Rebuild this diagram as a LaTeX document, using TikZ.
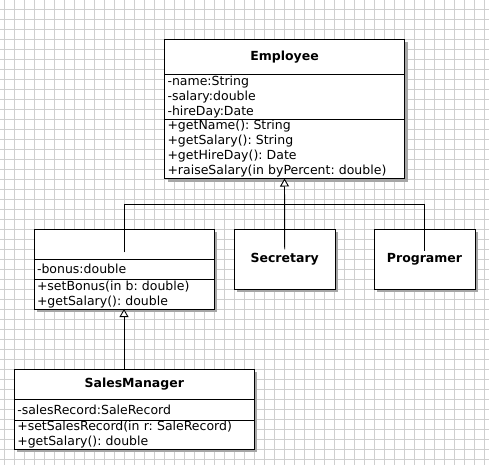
\documentclass[tikz,border=0pt]{standalone}
\usepackage{fontspec}
\setmainfont{DejaVu Sans}
\usetikzlibrary{arrows.meta,calc,shadows}

\begin{document}
\frenchspacing
\begin{tikzpicture}[
    x=1pt, y=-1pt,
    gridline/.style={draw=black!19, line width=0.6pt},
    part/.style={draw, fill=white, line width=0.9pt, outer sep=0pt,
      inner xsep=3pt, inner ysep=0pt, align=left, anchor=north,
      drop shadow={shadow xshift=3pt, shadow yshift=-3pt, fill=black!35, opacity=1}},
    titlepart/.style={part, align=center, font=\fontsize{12.5}{15}\selectfont\bfseries},
    link/.style={line width=0.9pt},
    inherit/.style={link, -{Triangle[open, fill=white, length=8pt, width=9pt]}},
    font=\fontsize{12.5}{15}\selectfont
  ]

  % background and grid
  \fill[white] (0,0) rectangle (489,465);
  \useasboundingbox (0,0) rectangle (489,465);
  \foreach \gx in {4,14,...,484} \draw[gridline] (\gx,0) -- (\gx,465);
  \foreach \gy in {9.5,19.5,...,459.5} \draw[gridline] (0,\gy) -- (489,\gy);

  %% ---- Employee ----
  \node[titlepart, text width=234pt, minimum height=34.7] (empT) at (284.5,39.3) {Employee};
  \node[part, text width=234pt, minimum height=45.3] (empA) at (empT.south)
    {-name:String\\-salary:double\\-hireDay:Date};
  \node[part, text width=234pt, minimum height=59.2] (empM) at (empA.south)
    {+getName(): String\\+getSalary(): String\\+getHireDay(): Date\\+raiseSalary(in byPercent: double)};

  %% ---- Manager (no name) ----
  \node[titlepart, text width=174pt, minimum height=30] (mgrT) at (124,229.3) {};
  \node[part, text width=174pt, minimum height=20] (mgrA) at (mgrT.south) {-bonus:double};
  \node[part, text width=174pt, minimum height=29.7] (mgrM) at (mgrA.south)
    {+setBonus(in b: double)\\+getSalary(): double};

  %% ---- Secretary, Programer ----
  \node[titlepart, text width=94.7pt, minimum height=59.7] (sec) at (284.7,229.3) {Secretary};
  \node[titlepart, text width=95pt, minimum height=59.7] (prg) at (424.5,229.3) {Programer};

  %% ---- SalesManager ----
  \node[titlepart, text width=234pt, minimum height=29.7] (salT) at (134.3,369.3) {SalesManager};
  \node[part, text width=234pt, minimum height=21.7] (salA) at (salT.south) {-salesRecord:SaleRecord};
  \node[part, text width=234pt, minimum height=28.3] (salM) at (salA.south)
    {+setSalesRecord(in r: SaleRecord)\\+getSalary(): double};

  %% ---- Generalisation ----
  \coordinate (bus) at (0,204.3);
  \draw[inherit] ($(sec.north)+(0,20)$) -- (empM.south);
  \draw[link] ($(mgrT.north)+(0,23)$) -- (mgrT.north |- bus) -- (prg.north |- bus)
    -- ($(prg.north)+(0,22)$);
  \draw[inherit] (salT.north -| mgrM.south) -- (mgrM.south);

\end{tikzpicture}
\end{document}
